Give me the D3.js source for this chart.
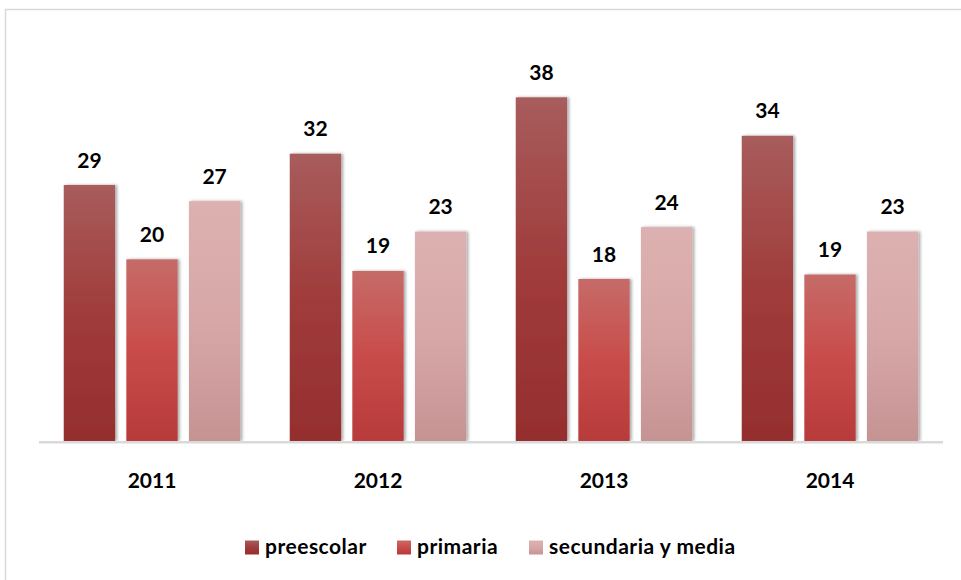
<!DOCTYPE html>
<html>
<head>
<meta charset="utf-8">
<script src="https://cdn.jsdelivr.net/npm/d3@7"></script>
<style>
  html, body { margin: 0; padding: 0; background: #fff; }
  svg { display: block; font-family: Lato, "Open Sans", sans-serif; }
</style>
</head>
<body>
<svg id="chart" width="961" height="580"></svg>
<script>
// ---- data ----
const years = ["2011", "2012", "2013", "2014"];
const seriesNames = ["preescolar", "primaria", "secundaria y media"];
const preescolar = [28.6, 32.1, 38.4, 34.1];
const primaria = [20.3, 19.0, 18.1, 18.6];
const secundaria = [26.8, 23.4, 23.9, 23.4];
const seriesValues = [preescolar, primaria, secundaria];

// ---- styles ----
const gradStops = [
  [["#a85c5c", 0], ["#a03c3b", 0.5], ["#952e2e", 1]],
  [["#c66b68", 0], ["#c84c4a", 0.5], ["#b83a3a", 1]],
  [["#ddb1b1", 0], ["#d7a7a7", 0.5], ["#c69393", 1]]
];

const svg = d3.select("#chart");
const plot = { left: 39, right: 943, top: 83, bottom: 441 };

// frame (extends beyond the picture on right and bottom)
svg.append("rect")
  .attr("x", 5.5).attr("y", 9.5)
  .attr("width", 1000).attr("height", 1000)
  .attr("fill", "none").attr("stroke", "#d9d9d9").attr("stroke-width", 1.5);

const defs = svg.append("defs");
gradStops.forEach((stops, i) => {
  const g = defs.append("linearGradient")
    .attr("id", "grad" + i).attr("x1", 0).attr("y1", 0).attr("x2", 0).attr("y2", 1);
  stops.forEach(([c, o]) => g.append("stop").attr("offset", o).attr("stop-color", c));
});
const f = defs.append("filter").attr("id", "shadow")
  .attr("x", "-20%").attr("y", "-5%").attr("width", "140%").attr("height", "110%");
f.append("feDropShadow").attr("dx", 2).attr("dy", 0).attr("stdDeviation", 1.8)
  .attr("flood-color", "#000").attr("flood-opacity", 0.35);

const x0 = d3.scaleBand().domain(years).range([plot.left, plot.right])
  .paddingInner(0.219).paddingOuter(0.1095);
const x1 = d3.scaleBand().domain(d3.range(seriesNames.length))
  .range([0, x0.bandwidth()]).paddingInner(0.18).paddingOuter(0);
const y = d3.scaleLinear().domain([0, 40]).range([plot.bottom, plot.top]);

// bars
const groups = svg.append("g").selectAll("g").data(years).join("g")
  .attr("transform", d => `translate(${x0(d)},0)`);

groups.each(function(yr, yi) {
  const g = d3.select(this);
  seriesValues.forEach((vals, si) => {
    const v = vals[yi];
    g.append("rect")
      .attr("x", x1(si)).attr("y", y(v))
      .attr("width", x1.bandwidth()).attr("height", y(0) - y(v))
      .attr("fill", `url(#grad${si})`)
      .attr("filter", "url(#shadow)");
    g.append("text")
      .attr("x", x1(si) + x1.bandwidth() / 2)
      .attr("y", y(v) - 17.5)
      .attr("text-anchor", "middle")
      .attr("font-size", 21).attr("font-weight", "bold").attr("fill", "#000")
      .text(Math.round(v));
  });
});

// x axis
const xAxis = svg.append("g").attr("transform", `translate(0,${plot.bottom + 1.2})`)
  .call(d3.axisBottom(x0).tickSize(0).tickPadding(0));
xAxis.select(".domain").attr("stroke", "#d9d9d9").attr("stroke-width", 2.5)
  .attr("d", `M${plot.left},0H${plot.right}`);
xAxis.selectAll(".tick text")
  .attr("y", 0).attr("dy", 0)
  .attr("transform", `translate(0,${488 - plot.bottom - 1.2})`)
  .attr("font-family", "Lato, 'Open Sans', sans-serif")
  .attr("font-size", 21).attr("font-weight", "bold").attr("fill", "#000");

// legend
const legendStarts = [245, 397, 529];
const legend = svg.append("g");
seriesNames.forEach((name, i) => {
  legend.append("rect")
    .attr("x", legendStarts[i]).attr("y", 540.5)
    .attr("width", 14).attr("height", 14)
    .attr("fill", `url(#grad${i})`);
  legend.append("text")
    .attr("x", legendStarts[i] + 20).attr("y", 554)
    .attr("font-size", 21).attr("font-weight", "bold").attr("fill", "#000")
    .attr("letter-spacing", 0.5)
    .text(name);
});
</script>
</body>
</html>
